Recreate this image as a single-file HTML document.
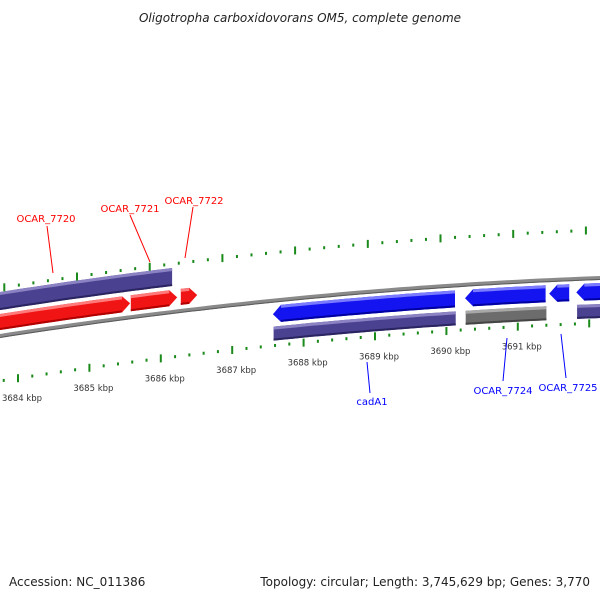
<!DOCTYPE html>
<html><head><meta charset="utf-8"><style>
html,body{margin:0;padding:0;background:#fff;}
svg{display:block;font-family:"DejaVu Sans","Liberation Sans",sans-serif;}
</style></head><body>
<svg id="map" width="600" height="600" viewBox="0 0 600 600">
<text x="300" y="22" text-anchor="middle" font-size="12" font-style="italic" fill="#222">Oligotropha carboxidovorans OM5, complete genome</text>
<text x="9" y="586" font-size="12" fill="#222">Accession: NC_011386</text>
<text x="590" y="586" text-anchor="end" font-size="12" fill="#222">Topology: circular; Length: 3,745,629 bp; Genes: 3,770</text>
<g id="layer"></g>
</svg>
<script>
// kbp of major ticks
const tickKbp = [3684,3685,3686,3687,3688,3689,3690,3691,3692];
const tickLabels = ["3684 kbp","3685 kbp","3686 kbp","3687 kbp","3688 kbp","3689 kbp","3690 kbp","3691 kbp"];
// genes (kbp start, end)
const fwdNames = ["OCAR_7720","OCAR_7721","OCAR_7722"];
const fwdStart = [3683.0, 3685.58, 3686.28];
const fwdEnd = [3685.57, 3686.23, 3686.51];
const fwdGeneBand = [[3683.0,3686.2]];
const revNames = ["cadA1","OCAR_7724","OCAR_7725","OCAR_7726"];
const revStart = [3687.57, 3690.26, 3691.44, 3691.82];
const revEnd = [3690.12, 3691.39, 3691.72, 3692.6];
const revBandStart = [3687.58, 3690.27, 3691.83];
const revBandEnd = [3690.13, 3691.40, 3692.6];
const revBandKind = ["gene","pseudo","gene"];

const NS="http://www.w3.org/2000/svg";
const layer=document.getElementById('layer');
const COL={red:['#f01414','#ff7a7a','#b00000'],blue:['#1414f0','#7a7aff','#0000a0'],pur:['#4a4290','#8a82c2','#2a2460'],gray:['#6c6c6c','#a8a8a8','#444']};
function bb(x){return 336-0.1567*x+0.0001*x*x;}
function xs(k){return 18+(k-3684)*71.4;}
function xu(k){return 77+(k-3685)*72.7;}
function mk(tag,attrs){const e=document.createElementNS(NS,tag);for(const a in attrs)e.setAttribute(a,attrs[a]);layer.appendChild(e);return e;}
function edge(x1,x2,o){const p=[];const n=Math.max(2,Math.ceil(Math.abs(x2-x1)/10));for(let i=0;i<=n;i++){const x=x1+(x2-x1)*i/n;p.push([x,bb(x)+o]);}return p;}
function shape(x1,x2,o1,o2,dir){
  const h=8;let pts=[];
  if(dir>0){pts=pts.concat(edge(x1,x2-h,o1));pts.push([x2,bb(x2)+(o1+o2)/2]);pts=pts.concat(edge(x2-h,x1,o2));}
  else if(dir<0){pts.push([x1,bb(x1)+(o1+o2)/2]);pts=pts.concat(edge(x1+h,x2,o1));pts=pts.concat(edge(x2,x1+h,o2));}
  else{pts=pts.concat(edge(x1,x2,o1));pts=pts.concat(edge(x2,x1,o2));}
  return pts.map(p=>p[0].toFixed(1)+','+p[1].toFixed(1)).join(' ');
}
function ln(p){return p.map(q=>q[0].toFixed(1)+','+q[1].toFixed(1)).join(' ');}
function feature(x1,x2,o1,o2,dir,c,name){
  let g=mk('polygon',{points:shape(x1,x2,o1,o2,dir),fill:c[0]});
  
  
  const a=dir<0?x1+8:x1, b=dir>0?x2-8:x2;
  let h=mk('polyline',{points:ln(edge(a,b,o1+1.5)),fill:'none',stroke:c[1],'stroke-width':3});
  
  
  let s=mk('polyline',{points:ln(edge(a,b,o2-1)),fill:'none',stroke:c[2],'stroke-width':2});
  
  
}
// backbone
let e=mk('polyline',{points:ln(edge(0,600,0)),fill:'none',stroke:'#8a8a8a','stroke-width':4});


e=mk('polyline',{points:ln(edge(0,600,1.5)),fill:'none',stroke:'#5a5a5a','stroke-width':1});


fwdGeneBand.forEach((g,i)=>{
  feature(xs(g[0]),xs(g[1])-3,-44,-26,0,COL.pur,'forward-gene-band');
});
fwdNames.forEach((n,i)=>{
  feature(xs(fwdStart[i]),xs(fwdEnd[i]),-22,-6,1,COL.red,'cds-'+n.toLowerCase().replace('_','-'));
});
revNames.forEach((n,i)=>{
  feature(xs(revStart[i]),xs(revEnd[i]),5,22,-1,COL.blue,'cds-'+n.toLowerCase().replace('_','-'));
});
revBandStart.forEach((s,i)=>{
  feature(xs(s),xs(revBandEnd[i]),26,40,0,revBandKind[i]==='pseudo'?COL.gray:COL.pur,'reverse-gene-band');
});
// ticks
function ticks(xf,off,startK,endK,name){
  for(let k=startK;k<=endK+0.001;k+=0.2){
    const kk=Math.round(k*10)/10;const x=xf(kk);if(x<-2||x>602)continue;
    const y=bb(x)+off;const major=Math.abs(kk-Math.round(kk))<0.01;
    e=mk('rect',major?{x:x-1,y:y-4,width:2,height:8,fill:'#1a8a1a'}:{x:x-1,y:y-1.5,width:2,height:3,fill:'#1a8a1a'});
    
    
  }
}
ticks(xs,45,tickKbp[0]-0.4,tickKbp[tickKbp.length-1],'lower-tick');
ticks(xu,-48,tickKbp[0]-0.4,tickKbp[tickKbp.length-1],'upper-tick');
tickLabels.forEach((t,i)=>{
  const x=xs(tickKbp[i]);
  e=mk('text',{x:x+4,y:bb(x)+68,'text-anchor':'middle','font-size':8.5,fill:'#333'});
  e.textContent=t;
  
  
});
// labels
const lblText=["OCAR_7720","OCAR_7721","OCAR_7722","cadA1","OCAR_7724","OCAR_7725"];
const lblX=[46,130,194,372,503,568];
const lblY=[222,212,204,405,394,391];
const lblLine=[[47,226,53,273],[130,215,150,262],[193,207,185,258],[367,362,370,393],[507,338,503,381],[561,334,566,378]];
const lblCol=["#f00","#f00","#f00","#00f","#00f","#00f"];
lblText.forEach((t,i)=>{
  const l=lblLine[i];
  e=mk('line',{x1:l[0],y1:l[1],x2:l[2],y2:l[3],stroke:lblCol[i],'stroke-width':1});
  
  
  e=mk('text',{x:lblX[i],y:lblY[i],'text-anchor':'middle','font-size':10,fill:lblCol[i]});
  e.textContent=t;
  
  
});
</script>
</body></html>
